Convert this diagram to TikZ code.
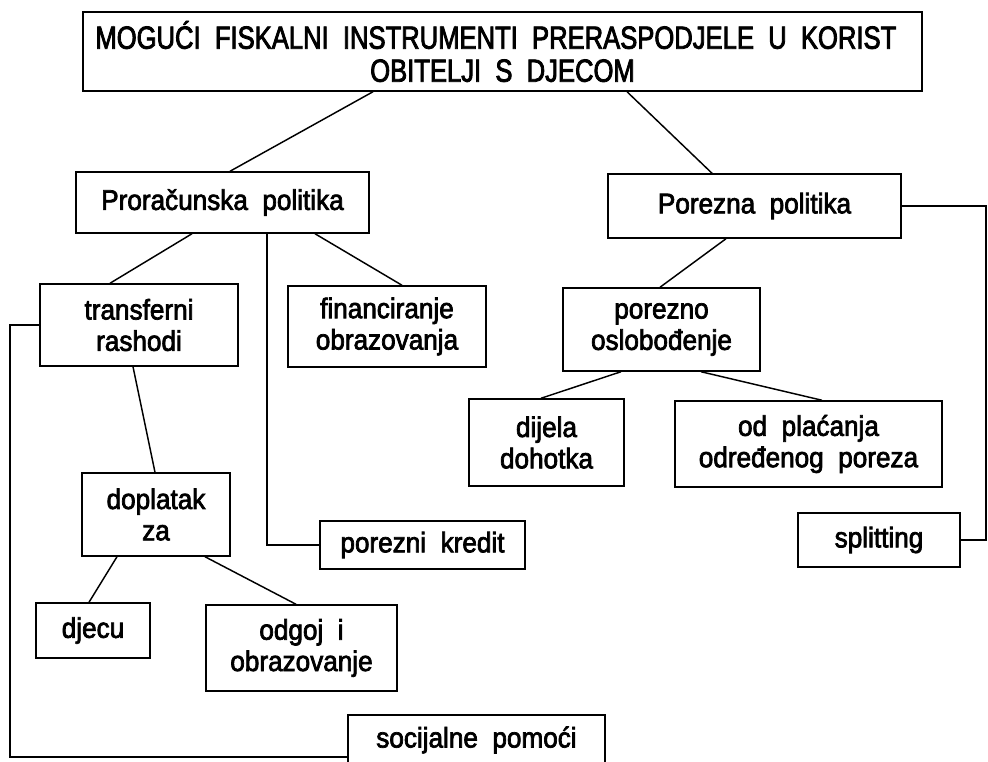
\documentclass[tikz,border=0pt]{standalone}
\usepackage{fontspec}
\setmainfont{Liberation Sans}
\newfontfamily\bodyfam[FakeStretch=0.92,FakeBold=2.5]{Liberation Sans}
\newfontfamily\condfont[FakeStretch=0.80,FakeBold=2.5]{Liberation Sans}
\usetikzlibrary{calc}
\newcommand{\bodyfont}{\bodyfam\fontsize{21.3pt}{23.5pt}\selectfont}
\newcommand{\titlefont}{\condfont\fontsize{24pt}{24.75pt}\selectfont}
\tikzset{
  box/.style={draw, line width=1.1pt, inner sep=0pt, align=center, font=\bodyfont},
  conn/.style={line width=1.1pt},
}
\begin{document}
\begin{tikzpicture}[x=0.75pt, y=-0.75pt]
\useasboundingbox (0,0) rectangle (988,762);
\fill[white] (0,0) rectangle (988,762);
\clip (0,0) rectangle (988,762);

\node[box, font=\titlefont, minimum width=839*0.75pt, minimum height=79*0.75pt] (top) at (502.5,51.5)
  {MOGUĆI \ FISKALNI \ INSTRUMENTI \ PRERASPODJELE \ U \ KORIST\hspace*{10pt}\\OBITELJI \ S \ DJECOM};

\node[box, minimum width=293*0.75pt, minimum height=61*0.75pt] (prp) at (222.5,202.5) {Proračunska \ politika};
\node[box, minimum width=293*0.75pt, minimum height=64*0.75pt] (por) at (754.5,206) {Porezna \ politika};
\node[box, minimum width=198*0.75pt, minimum height=82*0.75pt] (tr) at (139,325) {transferni\\rashodi};
\node[box, minimum width=198*0.75pt, minimum height=81*0.75pt] (fin) at (387,326.5) {financiranje\\obrazovanja};
\node[box, minimum width=197*0.75pt, minimum height=83*0.75pt] (pos) at (661.5,329.5) {porezno\\oslobođenje};
\node[box, minimum width=155*0.75pt, minimum height=87*0.75pt] (dij) at (546.5,442.5) {dijela\\dohotka};
\node[box, minimum width=267*0.75pt, minimum height=86*0.75pt] (odp) at (808.5,444) {od \ plaćanja\\određenog \ poreza};
\node[box, minimum width=148*0.75pt, minimum height=83*0.75pt] (dop) at (156,514.5) {doplatak\\za};
\node[box, minimum width=205*0.75pt, minimum height=48*0.75pt] (pk) at (422.5,545) {porezni \ kredit};
\node[box, minimum width=162*0.75pt, minimum height=54*0.75pt] (spl) at (879,540) {splitting};
\node[box, minimum width=114*0.75pt, minimum height=55*0.75pt] (dje) at (93,630.5) {djecu};
\node[box, minimum width=191*0.75pt, minimum height=86*0.75pt] (odg) at (301.5,648) {odgoj \ i\\obrazovanje};
\node[box, minimum width=257*0.75pt, minimum height=60*0.75pt] (soc) at (476.5,745) {};
\node[font=\bodyfont, inner sep=0pt] (soct) at (476.5,740) {socijalne \ pomoći};

\coordinate (re) at (986,0);
\coordinate (le) at (10,0);

\draw[conn] ([xshift=-129.5*0.75pt]top.south) -- ([xshift=7.5*0.75pt]prp.north);
\draw[conn] ([xshift=124.5*0.75pt]top.south) -- ([xshift=-42.5*0.75pt]por.north);
\draw[conn] ([xshift=-30.5*0.75pt]prp.south) -- ([xshift=-29*0.75pt]tr.north);
\draw[conn] ([xshift=92.5*0.75pt]prp.south) -- ([xshift=15*0.75pt]fin.north);
\draw[conn] ([xshift=44.5*0.75pt]prp.south) |- (pk.west);
\draw[conn] ([xshift=-6*0.75pt]tr.south) -- ([xshift=-1*0.75pt]dop.north);
\draw[conn] ([xshift=-39*0.75pt]dop.south) -- ([xshift=-4*0.75pt]dje.north);
\draw[conn] ([xshift=49*0.75pt]dop.south) -- ([xshift=-5.5*0.75pt]odg.north);
\draw[conn] (tr.west) -- (tr.west -| le) -- ([yshift=-9pt]soc.west -| le) -- ([yshift=-9pt]soc.west);
\draw[conn] (por.east) -- (por.east -| re) -- (spl.east -| re) -- (spl.east);
\draw[conn] ([xshift=-28.5*0.75pt]por.south) -- ([xshift=-1.5*0.75pt]pos.north);
\draw[conn] ([xshift=-40.5*0.75pt]pos.south) -- ([xshift=-5.5*0.75pt]dij.north);
\draw[conn] ([xshift=39.5*0.75pt]pos.south) -- ([xshift=13.5*0.75pt]odp.north);
\end{tikzpicture}
\end{document}
